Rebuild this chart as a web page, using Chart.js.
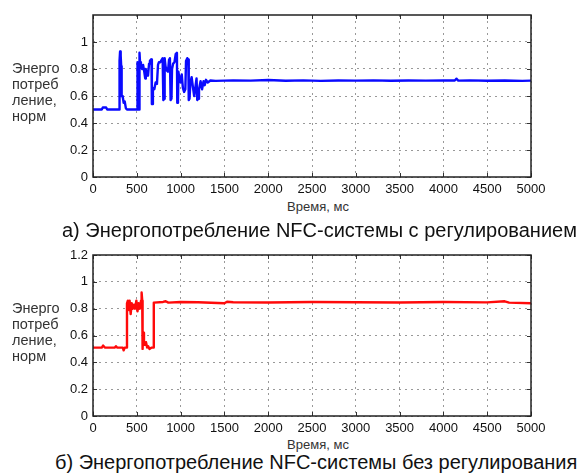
<!DOCTYPE html>
<html><head><meta charset="utf-8">
<script src="https://cdn.jsdelivr.net/npm/chart.js@4.4.1/dist/chart.umd.min.js"></script>
<style>
html,body{margin:0;padding:0;background:#fff;}
body{width:583px;height:475px;position:relative;overflow:hidden;font-family:"Liberation Sans",Arial,sans-serif;color:#222;}
canvas{position:absolute;left:0;}
.ylab{position:absolute;left:12px;font-size:14.5px;line-height:16px;color:#333;}
.xt{position:absolute;width:200px;text-align:center;font-size:13px;line-height:16px;color:#333;}
.cap{position:absolute;font-size:20px;line-height:22px;color:#111;white-space:nowrap;}
</style></head>
<body>
<canvas id="c1" width="583" height="195" style="top:0px"></canvas>
<canvas id="c2" width="583" height="195" style="top:240px"></canvas>
<div class="ylab" style="top:60px">Энерго<br>потреб<br>ление,<br>норм</div>
<div class="ylab" style="top:300px">Энерго<br>потреб<br>ление,<br>норм</div>
<div class="xt" style="left:218px;top:199px">Время, мс</div>
<div class="xt" style="left:218px;top:437px">Время, мс</div>
<div class="cap" style="left:62px;top:219px">а) Энергопотребление NFC-системы с регулированием</div>
<div class="cap" style="left:55px;top:451px">б) Энергопотребление NFC-системы без регулирования</div>
<script>
const timeTicks = [0,500,1000,1500,2000,2500,3000,3500,4000,4500,5000];
const energyTicksA = [0,0.2,0.4,0.6,0.8,1];
const energyTicksB = [0,0.2,0.4,0.6,0.8,1,1.2];

const timeA = [0,100,112,150,162,295,300,303,309,316,322,327,338,350,362,375,388,500,505,508,514,520,526,531,537,547,560,572,585,596,603,615,628,640,650,660,668,672,680,684,700,715,730,742,752,768,785,795,803,813,818,828,842,856,868,878,886,896,902,915,930,944,958,962,970,975,987,1000,1013,1026,1040,1054,1062,1076,1088,1093,1102,1112,1126,1140,1155,1168,1182,1190,1200,1210,1228,1245,1262,1275,1290,1310,1340,1400,1600,1800,2000,2200,2400,2600,2800,3000,3200,3400,3600,3800,4000,4130,4150,4170,4300,4500,4700,4900,5000];
const energyA = [0.50,0.50,0.515,0.515,0.50,0.50,0.50,0.86,0.93,0.90,0.82,0.60,0.60,0.55,0.56,0.51,0.50,0.50,0.50,0.85,0.84,0.50,0.50,0.92,0.85,0.83,0.80,0.83,0.78,0.73,0.80,0.77,0.75,0.84,0.86,0.87,0.87,0.54,0.54,0.66,0.65,0.70,0.69,0.83,0.85,0.85,0.87,0.88,0.57,0.58,0.88,0.82,0.79,0.78,0.87,0.88,0.57,0.58,0.80,0.84,0.85,0.91,0.92,0.55,0.56,0.78,0.72,0.70,0.76,0.66,0.63,0.65,0.86,0.88,0.87,0.57,0.58,0.70,0.74,0.67,0.60,0.66,0.73,0.57,0.58,0.65,0.71,0.65,0.71,0.68,0.72,0.70,0.715,0.712,0.716,0.714,0.718,0.713,0.716,0.712,0.715,0.714,0.716,0.713,0.715,0.714,0.716,0.715,0.728,0.714,0.716,0.713,0.715,0.712,0.714];

const timeB = [0,100,115,135,250,262,275,340,350,362,384,388,398,408,418,430,442,455,468,480,495,508,520,535,548,555,562,566,574,582,592,605,618,630,645,670,690,694,800,830,860,1000,1200,1500,1530,1600,2000,2500,3000,3500,4000,4500,4700,4750,5000];
const energyB = [0.51,0.51,0.525,0.51,0.51,0.52,0.51,0.51,0.49,0.51,0.51,0.84,0.86,0.79,0.86,0.76,0.84,0.80,0.83,0.80,0.86,0.78,0.84,0.80,0.86,0.92,0.86,0.50,0.62,0.56,0.53,0.55,0.51,0.52,0.50,0.51,0.51,0.845,0.85,0.855,0.845,0.85,0.848,0.84,0.852,0.848,0.846,0.85,0.848,0.846,0.85,0.847,0.855,0.845,0.84];

const framePlugin = {
  id: 'frame',
  afterDraw(chart) {
    const {ctx, chartArea: a, scales: {x, y}} = chart;
    ctx.save();
    ctx.strokeStyle = '#333';
    ctx.lineWidth = 1;
    ctx.beginPath();
    x.ticks.forEach(t => {
      const px = Math.round(x.getPixelForValue(t.value)) + 0.5;
      ctx.moveTo(px, a.bottom); ctx.lineTo(px, a.bottom - 4);
      ctx.moveTo(px, a.top); ctx.lineTo(px, a.top + 4);
    });
    y.ticks.forEach(t => {
      const py = Math.round(y.getPixelForValue(t.value)) + 0.5;
      ctx.moveTo(a.left, py); ctx.lineTo(a.left + 4, py);
      ctx.moveTo(a.right, py); ctx.lineTo(a.right - 4, py);
    });
    ctx.stroke();
    ctx.lineWidth = 1.5;
    ctx.strokeStyle = '#222';
    ctx.strokeRect(a.left, a.top, a.right - a.left, a.bottom - a.top);
    ctx.restore();
  }
};

function makeChart(id, times, values, color, yTicks, xAxisHeight) {
  const pts = times.map((t, i) => ({x: t, y: values[i]}));
  return new Chart(document.getElementById(id), {
    type: 'line',
    data: {datasets: [{data: pts, borderColor: color, borderWidth: 2.4, borderJoinStyle: 'round', borderCapStyle: 'round', pointRadius: 0, tension: 0, fill: false}]},
    options: {
      responsive: false, animation: false, devicePixelRatio: 1,
      layout: {padding: {top: 15, right: 52, left: 0, bottom: 0}},
      plugins: {legend: {display: false}, tooltip: {enabled: false}},
      scales: {
        x: {
          type: 'linear', min: 0, max: 5000,
          afterBuildTicks: s => { s.ticks = timeTicks.map(v => ({value: v})); },
          afterFit: s => { s.height = xAxisHeight; },
          grid: {color: '#999', drawTicks: false},
          border: {display: false, dash: [2, 4]},
          ticks: {padding: 5, color: '#111', font: {family: 'Liberation Sans', size: 13}, maxRotation: 0, callback: v => String(v)}
        },
        y: {
          min: 0, max: 1.2,
          afterBuildTicks: s => { s.ticks = yTicks.map(v => ({value: v})); },
          afterFit: s => { s.width = 93; },
          grid: {color: '#999', drawTicks: false},
          border: {display: false, dash: [2, 4]},
          ticks: {padding: 5, color: '#111', font: {family: 'Liberation Sans', size: 13}, callback: v => String(+v.toFixed(1))}
        }
      }
    },
    plugins: [framePlugin]
  });
}

makeChart('c1', timeA, energyA, '#0a0aff', energyTicksA, 18);
makeChart('c2', timeB, energyB, '#ff0a0a', energyTicksB, 19);
</script>
</body></html>
